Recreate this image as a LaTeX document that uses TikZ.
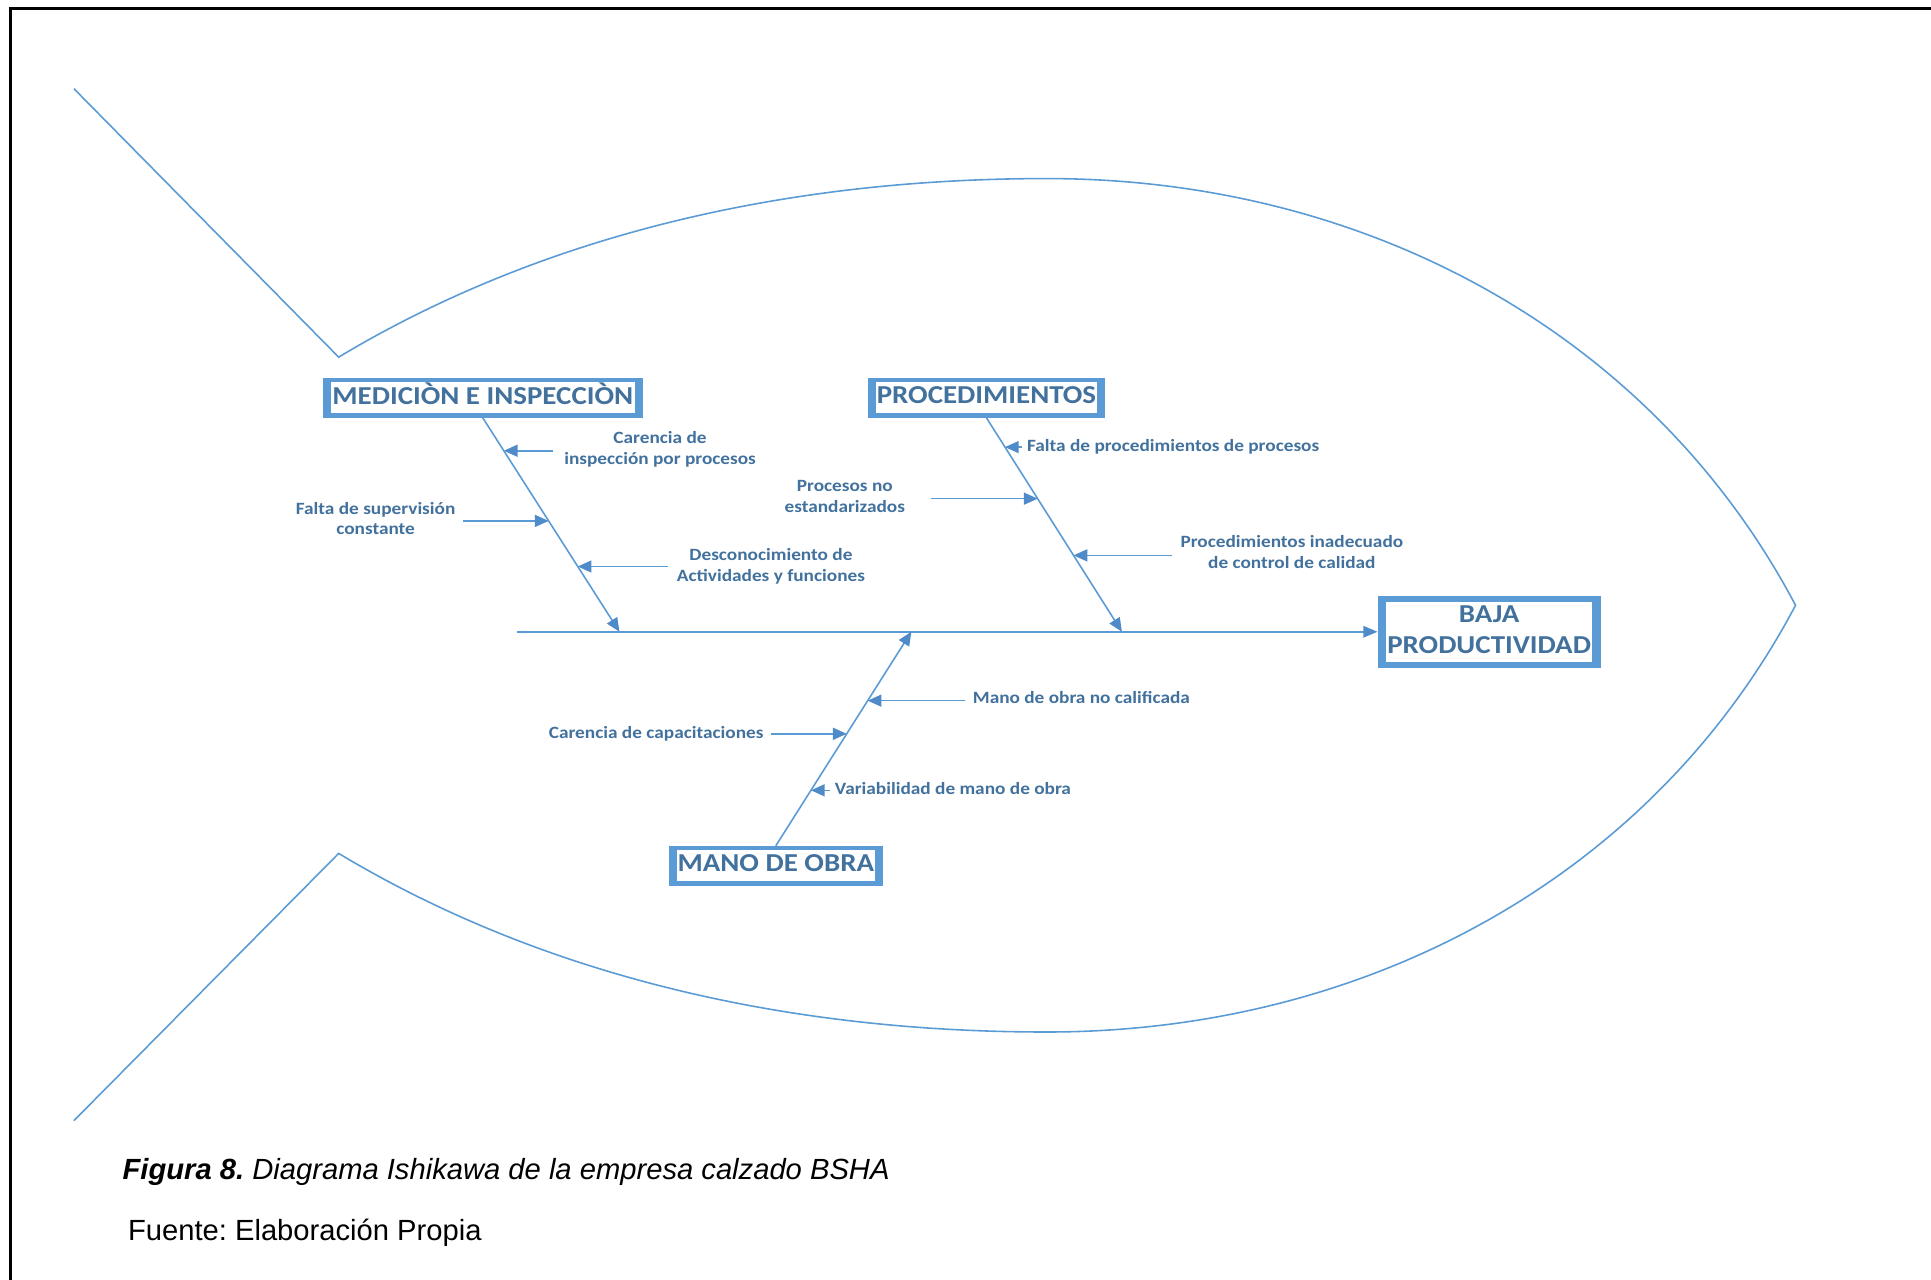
\documentclass[tikz,border=0pt]{standalone}
\usepackage{fontspec}
\usepackage{graphicx}
\setmainfont{Carlito}
\newfontfamily\capfont{Liberation Sans}
\usetikzlibrary{arrows.meta,calc}

\definecolor{boxblue}{HTML}{5B9BD5}
\definecolor{lineblue}{HTML}{5B9BD5}
\definecolor{tipblue}{HTML}{4F8BC9}
\definecolor{txtblue}{HTML}{41719C}

% widened multi-line label
\newcommand{\stretchtext}[1]{\scalebox{1.12}[1]{\begin{tabular}{@{}c@{}}#1\end{tabular}}}

\begin{document}
\frenchspacing
\begin{tikzpicture}[x=0.012315cm, y=-0.012315cm,
  every node/.style={inner sep=0pt, outer sep=0pt},
  causebox/.style 2 args={fill=boxblue, text=txtblue,
    font=\fontsize{7.35}{8.73}\selectfont\bfseries,
    path picture={\fill[white]
      ($(path picture bounding box.south west)+(#1,#2)$) rectangle
      ($(path picture bounding box.north east)-(#1,#2)$);}},
  subtext/.style={text=txtblue, font=\fontsize{4.9}{5.9}\selectfont\bfseries},
  bone/.style={draw=lineblue, line width=0.45pt,
    -{Triangle[length=3.9pt,width=3.4pt,color=tipblue]}},
  spine/.style={draw=lineblue, line width=0.7pt,
    -{Triangle[length=4.1pt,width=3.2pt,color=tipblue]}},
  fish/.style={draw=lineblue, line width=0.45pt, line join=miter},
  frame/.style={draw=black, line width=0.8pt}
]
\useasboundingbox (0,0) rectangle (1568,1039);

% page frame
\draw[frame] (8.5,1039) -- (8.5,7) -- (1568,7);

% fish outline: tail and body
\draw[fish] (60,72) -- (275,290)
  .. controls (435,194) and (630,145) .. (850,145)
  .. controls (1110,145) and (1341.5,271) .. (1458,491.5)
  .. controls (1341.5,712) and (1110,838) .. (850,838)
  .. controls (630,838) and (435,789) .. (275,693)
  -- (60,910);

% effect and main causes
\node[causebox={0.085cm}{0.060cm}, minimum width=2.229cm, minimum height=0.7204cm]
  (baja) at (1209.2,513) {\stretchtext{BAJA\\PRODUCTIVIDAD}};
\node[causebox={0.080cm}{0.047cm}, minimum width=3.2019cm, minimum height=0.4002cm]
  (med) at (392,323) {\stretchtext{MEDICIÒN E INSPECCIÒN}};
\node[causebox={0.080cm}{0.047cm}, minimum width=2.3645cm, minimum height=0.4002cm]
  (proc) at (801,323) {\stretchtext{PROCEDIMIENTOS}};
\node[causebox={0.080cm}{0.047cm}, minimum width=2.1428cm, minimum height=0.4002cm]
  (mano) at (630,703) {\stretchtext{MANO DE OBRA}};

% spine
\coordinate (spinestart) at (420,513);
\draw[spine] (spinestart) -- (baja.west);

% bones
\coordinate (m) at (503,513);
\coordinate (p) at (911,513);
\coordinate (o) at (740,513);
\draw[bone] (med.south) -- (m);
\draw[bone] (proc.south) -- (p);
\draw[bone] (mano.north) -- (o);

% sub-causes: MEDICIÒN E INSPECCIÒN
\coordinate (a1) at ($(med.south)!0.154!(m)$);
\coordinate (a2) at ($(med.south)!0.482!(m)$);
\coordinate (a3) at ($(med.south)!0.695!(m)$);
\coordinate (a1t) at ($(a1)+(40,0)$);
\coordinate (a2t) at ($(a2)+(-69.5,0)$);
\coordinate (a3t) at ($(a3)+(73,0)$);
\draw[bone] (a1t) -- (a1);
\draw[bone] (a2t) -- (a2);
\draw[bone] (a3t) -- (a3);
\node[subtext] (ta1) at (536,365.5) {\stretchtext{Carencia de\\inspección por procesos}};
\node[subtext] (ta2) at (305,422.5) {\stretchtext{Falta de supervisión\\constante}};
\node[subtext] (ta3) at (626,460) {\stretchtext{Desconocimiento de\\Actividades y funciones}};

% sub-causes: PROCEDIMIENTOS
\coordinate (b1) at ($(proc.south)!0.137!(p)$);
\coordinate (b2) at ($(proc.south)!0.378!(p)$);
\coordinate (b3) at ($(proc.south)!0.643!(p)$);
\coordinate (b1t) at ($(b1)+(14,0)$);
\coordinate (b2t) at ($(b2)+(-86.6,0)$);
\coordinate (b3t) at ($(b3)+(80,0)$);
\draw[bone] (b1t) -- (b1);
\draw[bone] (b2t) -- (b2);
\draw[bone] (b3t) -- (b3);
\node[subtext, anchor=west] (tb1) at (834,363) {\stretchtext{Falta de procedimientos de procesos}};
\node[subtext] (tb2) at (686,404) {\stretchtext{Procesos no\\estandarizados}};
\node[subtext] (tb3) at (1049,450) {\stretchtext{Procedimientos inadecuado\\de control de calidad}};

% sub-causes: MANO DE OBRA
\coordinate (c1) at ($(mano.north)!0.678!(o)$);
\coordinate (c2) at ($(mano.north)!0.523!(o)$);
\coordinate (c3) at ($(mano.north)!0.259!(o)$);
\coordinate (c1t) at ($(c1)+(79,0)$);
\coordinate (c2t) at ($(c2)+(-61.5,0)$);
\coordinate (c3t) at ($(c3)+(15.5,0)$);
\draw[bone] (c1t) -- (c1);
\draw[bone] (c2t) -- (c2);
\draw[bone] (c3t) -- (c3);
\node[subtext, anchor=west] (tc1) at (790,568) {\stretchtext{Mano de obra no calificada}};
\node[subtext, anchor=east] (tc2) at (620,596) {\stretchtext{Carencia de capacitaciones}};
\node[subtext, anchor=west] (tc3) at (678,642) {\stretchtext{Variabilidad de mano de obra}};

% caption
\node[anchor=base west, font=\capfont\fontsize{8.3}{10}\selectfont] (caption) at (99.6,958)
  {\textbf{\textit{Figura 8.}} \textit{Diagrama Ishikawa de la empresa calzado BSHA}};
\node[anchor=base west, font=\capfont\fontsize{8.3}{10}\selectfont] (source) at (104,1007)
  {Fuente: Elaboración Propia};
\end{tikzpicture}
\end{document}
